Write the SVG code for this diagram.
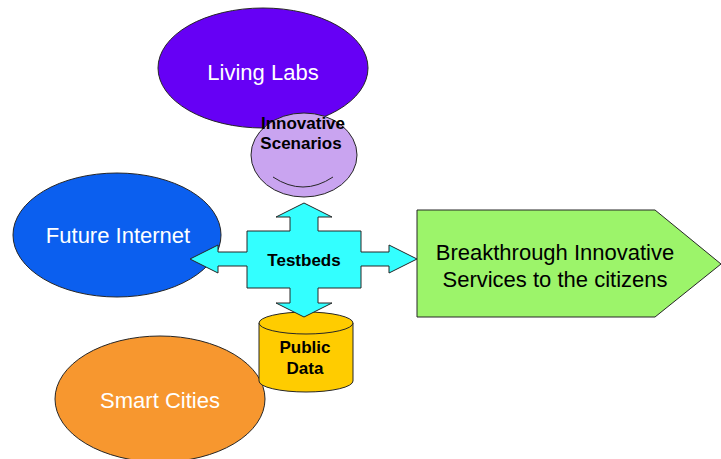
<svg xmlns="http://www.w3.org/2000/svg" width="721" height="459" viewBox="0 0 721 459">
<style>
.sh{stroke:#262626;stroke-width:1}
.wt{font-family:"Liberation Sans",Arial,sans-serif;font-size:22px;fill:#ffffff;text-anchor:middle}
.bt{font-family:"Liberation Sans",Arial,sans-serif;font-size:17px;font-weight:bold;fill:#000000;text-anchor:middle}
.gt{font-family:"Liberation Sans",Arial,sans-serif;font-size:22px;fill:#000000;text-anchor:middle}
</style>
<rect width="721" height="459" fill="#ffffff"/>
<g id="living-labs">
<ellipse class="sh" cx="263" cy="68" rx="105" ry="60" fill="#6600F5"/>
<text class="wt" x="263" y="80">Living Labs</text>
</g>
<g id="future-internet">
<ellipse class="sh" cx="117" cy="235" rx="104" ry="62" fill="#0B5FEF"/>
<text class="wt" x="118" y="243">Future Internet</text>
</g>
<g id="smart-cities">
<ellipse class="sh" cx="160" cy="399" rx="105" ry="63" fill="#F7972F"/>
<text class="wt" x="160" y="408">Smart Cities</text>
</g>
<g id="innovative-scenarios">
<ellipse class="sh" cx="304" cy="155" rx="53" ry="42" fill="#C9A4F0"/>
<path d="M273,177 Q303,197 333,177" fill="none" stroke="#262626" stroke-width="1"/>
<text class="bt" x="303" y="129">Innovative</text>
<text class="bt" x="301" y="149">Scenarios</text>
</g>
<g id="services">
<polygon class="sh" points="417,210 655,210 721,264 655,317 417,317" fill="#9CF46A"/>
<text class="gt" x="555" y="260">Breakthrough Innovative</text>
<text class="gt" x="555" y="287">Services to the citizens</text>
</g>
<g id="public-data">
<path class="sh" d="M259,323 L259,381 A47,11 0 0 0 353,381 L353,323 Z" fill="#FFCC00"/>
<ellipse class="sh" cx="306" cy="323" rx="47" ry="11" fill="#FFCC00"/>
<text class="bt" x="305" y="353">Public</text>
<text class="bt" x="305" y="374">Data</text>
</g>
<g id="connectors">
<polygon id="testbeds-cross" class="sh" fill="#33FFFF" points="304,203 332,217 318,217 318,231 361,231 361,252 389,252 389,245 417,259 389,273 389,266 361,266 361,288 318,288 318,303 332,303 304,317 276,303 290,303 290,288 247,288 247,266 218,266 218,273 190,259 218,245 218,252 247,252 247,231 290,231 290,217 276,217"/>
</g>
<g id="testbeds">
<text class="bt" x="304" y="266">Testbeds</text>
</g>
</svg>
